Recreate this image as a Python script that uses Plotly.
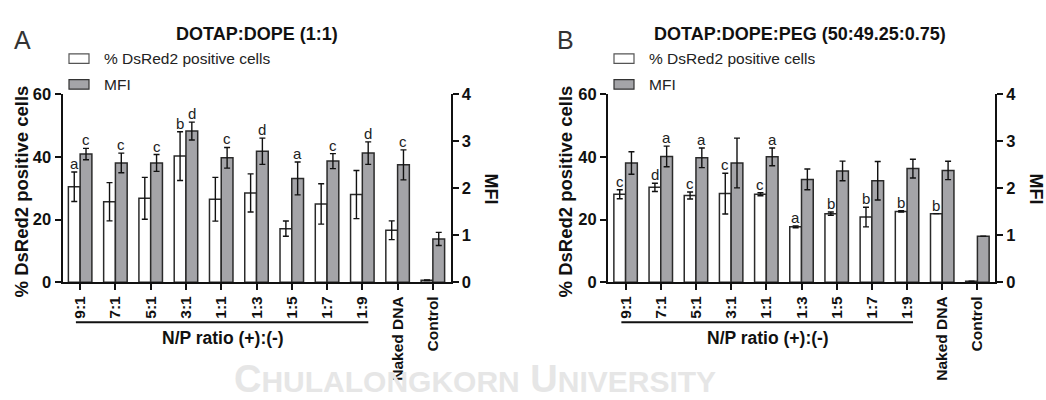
import plotly.graph_objects as go

W, H = 1046, 400

# ---------------- data ----------------
categories = ["9:1", "7:1", "5:1", "3:1", "1:1", "1:3", "1:5", "1:7", "1:9", "Naked DNA", "Control"]

# Panel A: DOTAP:DOPE (1:1)
a_pos = [30.5, 25.7, 26.8, 40.3, 26.5, 28.5, 17.1, 25.0, 28.0, 16.6, 0.6]
a_pos_err = [4.7, 6.1, 6.7, 7.8, 7.0, 6.1, 2.45, 6.45, 7.7, 3.0, 0.1]
a_mfi = [2.73, 2.54, 2.54, 3.22, 2.65, 2.79, 2.21, 2.58, 2.75, 2.50, 0.92]
a_mfi_err = [0.12, 0.21, 0.18, 0.19, 0.22, 0.28, 0.35, 0.16, 0.24, 0.32, 0.14]
a_pos_letters = ["a", "", "", "b", "", "", "", "", "", "", ""]
a_mfi_letters = ["c", "c", "c", "d", "c", "d", "a", "c", "d", "c", ""]

# Panel B: DOTAP:DOPE:PEG (50:49.25:0.75)
b_pos = [28.1, 30.3, 27.7, 28.3, 28.1, 17.7, 21.9, 20.8, 22.6, 21.9, 0.3]
b_pos_err = [1.45, 1.3, 1.1, 6.5, 0.5, 0.3, 0.5, 3.15, 0.2, 0.0, 0.0]
b_mfi = [2.54, 2.68, 2.65, 2.54, 2.67, 2.19, 2.37, 2.16, 2.42, 2.38, 0.98]
b_mfi_err = [0.24, 0.22, 0.21, 0.53, 0.19, 0.22, 0.21, 0.41, 0.20, 0.195, 0.0]
b_pos_letters = ["c", "d", "c", "c", "c", "a", "b", "b", "b", "b", ""]
b_mfi_letters = ["", "a", "a", "", "a", "", "", "", "", "", ""]

titles = ["DOTAP:DOPE (1:1)", "DOTAP:DOPE:PEG (50:49.25:0.75)"]
panel_letters = ["A", "B"]
legend_names = ["% DsRed2 positive cells", "MFI"]
y_left_title = "% DsRed2 positive cells"
y_right_title = "MFI"
np_title = "N/P ratio (+):(-)"
watermark = ("C", "HULALONGKORN", "U", "NIVERSITY")

# ---------------- style ----------------
FONT = "Liberation Sans, Arial, sans-serif"
WHITE = "#ffffff"
GREY = "#a4a4a8"
EDGE = "#2a2a2a"
BW = 1 / 3.0


def px(x):
    return x / W


def py(y):
    return 1 - y / H


xs = list(range(len(categories)))
fig = go.Figure()

panels = [
    dict(pos=a_pos, pe=a_pos_err, mfi=a_mfi, me=a_mfi_err, pl=a_pos_letters, ml=a_mfi_letters,
         xa="x", ya="y", ya2="y2", dom=[62.5 / W, 450.5 / W],
         title_x=257, letter_x=22, leg_x=69, ytitle_x=21, mfi_x=491),
    dict(pos=b_pos, pe=b_pos_err, mfi=b_mfi, me=b_mfi_err, pl=b_pos_letters, ml=b_mfi_letters,
         xa="x2", ya="y3", ya2="y4", dom=[608 / W, 995 / W],
         title_x=800, letter_x=565, leg_x=614, ytitle_x=565, mfi_x=1036),
]

ydom = [1 - 286 / H, 1 - 89.5 / H]
annotations = []
shapes = []

# faint background watermark text (drawn first)
annotations.append(dict(x=px(232), y=py(398), xref="paper", yref="paper", yshift=-13,
                        text='%s<span style="font-size:30px">%s</span> %s<span style="font-size:30px">%s</span>' % watermark,
                        showarrow=False, xanchor="left", yanchor="bottom",
                        font=dict(family=FONT, size=38, color="#e6e6e6", weight="bold")))

for i, p in enumerate(panels):
    fig.add_trace(go.Bar(
        x=xs, y=p["pos"], xaxis=p["xa"], yaxis=p["ya"], width=BW, offset=-BW,
        marker=dict(color=WHITE, line=dict(color=EDGE, width=1.5)),
        error_y=dict(type="data", array=p["pe"], color="#111", thickness=1.4, width=3),
        showlegend=False, name=legend_names[0]))
    fig.add_trace(go.Bar(
        x=xs, y=p["mfi"], xaxis=p["xa"], yaxis=p["ya2"], width=BW, offset=0,
        marker=dict(color=GREY, line=dict(color=EDGE, width=1.5)),
        error_y=dict(type="data", array=p["me"], color="#111", thickness=1.4, width=3),
        showlegend=False, name=legend_names[1]))

    # significance letters
    for j in xs:
        if p["pl"][j]:
            annotations.append(dict(x=j - BW / 2, y=p["pos"][j] + p["pe"][j], xref=p["xa"], yref=p["ya"],
                                    text=p["pl"][j], showarrow=False, yanchor="bottom", yshift=-2,
                                    font=dict(family=FONT, size=15, color="#222")))
        if p["ml"][j]:
            annotations.append(dict(x=j + BW / 2, y=p["mfi"][j] + p["me"][j], xref=p["xa"], yref=p["ya2"],
                                    text=p["ml"][j], showarrow=False, yanchor="bottom", yshift=-2,
                                    font=dict(family=FONT, size=15, color="#222")))

    # titles and panel letters
    annotations.append(dict(x=px(p["title_x"]), y=py(26), xref="paper", yref="paper", text=titles[i],
                            showarrow=False, xanchor="center", yanchor="middle",
                            font=dict(family=FONT, size=18, color="#111", weight="bold")))
    annotations.append(dict(x=px(p["letter_x"]), y=py(32), xref="paper", yref="paper", text=panel_letters[i],
                            showarrow=False, xanchor="center", yanchor="middle",
                            font=dict(family=FONT, size=25, color="#333", weight=300)))

    # manual legend
    lx = p["leg_x"]
    shapes.append(dict(type="rect", xref="paper", yref="paper", x0=px(lx), x1=px(lx + 20),
                       y0=py(57), y1=py(47), fillcolor=WHITE, line=dict(color="#555", width=1.2)))
    shapes.append(dict(type="rect", xref="paper", yref="paper", x0=px(lx), x1=px(lx + 20),
                       y0=py(84), y1=py(74), fillcolor=GREY, line=dict(color="#333", width=1.2)))
    annotations.append(dict(x=px(lx + 33), y=py(52), xref="paper", yref="paper", text=legend_names[0],
                            showarrow=False, xanchor="left", yanchor="middle",
                            font=dict(family=FONT, size=15.5, color="#222")))
    annotations.append(dict(x=px(lx + 33), y=py(79), xref="paper", yref="paper", text=legend_names[1],
                            showarrow=False, xanchor="left", yanchor="middle",
                            font=dict(family=FONT, size=15.5, color="#222")))

    # axis titles
    annotations.append(dict(x=px(p["ytitle_x"]), y=py(191), xref="paper", yref="paper", text=y_left_title,
                            showarrow=False, textangle=-90, xanchor="center", yanchor="middle",
                            font=dict(family=FONT, size=18.5, color="#111", weight="bold")))
    annotations.append(dict(x=px(p["mfi_x"]), y=py(188), xref="paper", yref="paper", text=y_right_title,
                            showarrow=False, textangle=90, xanchor="center", yanchor="middle",
                            font=dict(family=FONT, size=18, color="#111", weight="bold")))

    # N/P ratio bracket
    shapes.append(dict(type="line", xref=p["xa"], yref="paper", x0=-0.12, x1=8.17,
                       y0=py(328), y1=py(328), line=dict(color="#111", width=2)))
    annotations.append(dict(x=4.05, y=py(345), xref=p["xa"], yref="paper", text=np_title,
                            showarrow=False, xanchor="center", yanchor="middle",
                            font=dict(family=FONT, size=17.5, color="#111", weight="bold")))

xcommon = dict(range=[-0.5, 10.5], tickvals=xs, ticktext=categories, tickangle=-90,
               showline=True, linecolor="#111", linewidth=2, ticks="outside", ticklen=6, tickwidth=2,
               tickcolor="#111", showgrid=False, zeroline=False,
               tickfont=dict(family=FONT, size=15.5, color="#111", weight="bold"))
ycommon = dict(showline=True, linecolor="#111", linewidth=2, ticks="outside", ticklen=6, tickwidth=2,
               tickcolor="#111", showgrid=False, zeroline=False, domain=ydom,
               tickfont=dict(family=FONT, size=16.5, color="#111", weight="bold"))

fig.update_layout(
    width=W, height=H, margin=dict(l=0, r=0, t=0, b=0),
    paper_bgcolor="white", plot_bgcolor="rgba(0,0,0,0)",
    barmode="overlay", showlegend=False,
    xaxis=dict(domain=panels[0]["dom"], anchor="y", **xcommon),
    xaxis2=dict(domain=panels[1]["dom"], anchor="y3", **xcommon),
    yaxis=dict(anchor="x", range=[0, 60], tickvals=[0, 20, 40, 60], **ycommon),
    yaxis2=dict(anchor="x", overlaying="y", side="right", range=[0, 4], tickvals=[0, 1, 2, 3, 4], **ycommon),
    yaxis3=dict(anchor="x2", range=[0, 60], tickvals=[0, 20, 40, 60], **ycommon),
    yaxis4=dict(anchor="x2", overlaying="y3", side="right", range=[0, 4], tickvals=[0, 1, 2, 3, 4], **ycommon),
    annotations=annotations, shapes=shapes,
)

fig.write_html("out.html")
